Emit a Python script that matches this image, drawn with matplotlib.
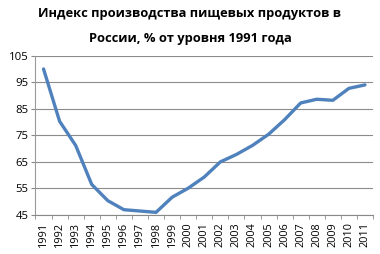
import numpy as np
import matplotlib
matplotlib.use("Agg")
import matplotlib.pyplot as plt

# index of food production in Russia, % of 1991 level
years = [str(y) for y in range(1991, 2012)]
index = [100, 80.3, 71.2, 56.5, 50.4, 47.0, 46.5, 46.0, 51.7, 55.1,
         59.3, 65.0, 67.8, 71.2, 75.4, 80.9, 87.2, 88.6, 88.2, 92.7, 94.0]
yticks = [45, 55, 65, 75, 85, 95, 105]
title = "Индекс производства пищевых продуктов в\nРоссии, % от уровня 1991 года"

plt.rcParams['font.family'] = ['Open Sans', 'DejaVu Sans']

fig = plt.figure(figsize=(3.8, 2.54), dpi=100)
ax = fig.add_axes([0.0934, 0.1535, 0.8882, 0.6272])

x = np.arange(len(years))
ax.plot(x, index, color='#4f81bd', linewidth=2.4, solid_capstyle='round')

ax.set_ylim(45, 105)
ax.set_yticks(yticks)
ax.set_xlim(-0.5, len(years) - 0.5)
ax.set_xticks(x)
ax.set_xticklabels(years, rotation=90, fontsize=7.8)
ax.set_xticks(np.arange(-0.5, len(years)), minor=True)
ax.tick_params(axis='x', which='major', length=0, pad=5)
ax.tick_params(axis='x', which='minor', length=3, color='#888888')
ax.tick_params(axis='y', labelsize=8.2, length=3, color='#888888', pad=2)

ax.grid(axis='y', color='#8c8c8c', linewidth=0.8)
ax.set_axisbelow(True)
for s in ['top', 'right']:
    ax.spines[s].set_visible(False)
ax.spines['left'].set_color('#999999')
ax.spines['bottom'].set_color('#888888')
ax.spines['left'].set_linewidth(0.8)
ax.spines['bottom'].set_linewidth(0.8)

fig.text(0.5, 0.972, title, ha='center', va='top', fontsize=9.3,
         fontweight='bold', linespacing=2.15)

fig.savefig('out.png', dpi=100)
